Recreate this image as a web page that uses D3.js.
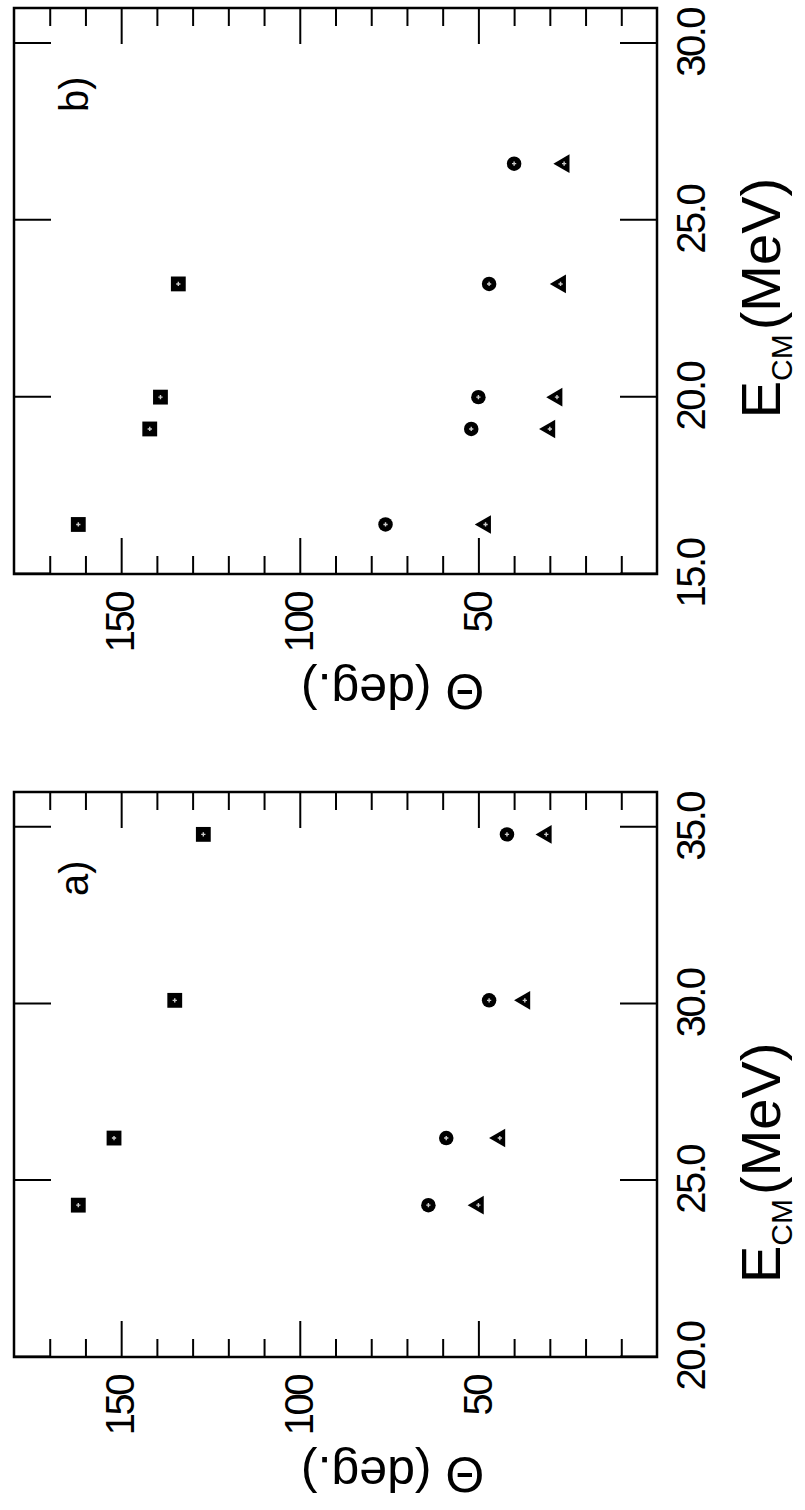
<!DOCTYPE html>
<html>
  <head>
    <meta charset="UTF-8" />
    <style>
      body {
        margin: 0;
        background: #fff;
      }
      svg text {
        font-family: "Liberation Sans", Arial, sans-serif;
        fill: #000;
      }
    </style>
  </head>
  <body>
    <svg></svg>
    <script src="https://d3js.org/d3.v7.min.js"></script>
    <script>
      // panel a) : E_cm (MeV) and angles (deg.) for the three symbols
      let energyA = [24.3, 26.2, 30.1, 34.8];
      let squareA = [162, 152, 135, 127];
      let circleA = [64, 59, 47, 42];
      let triangleA = [50, 44, 37, 31];
      let ticksA = [20, 25, 30, 35];

      // panel b)
      let energyB = [16.4, 19.1, 20.0, 23.2, 26.6];
      let squareB = [162, 142, 139, 134, null];
      let circleB = [76, 52, 50, 47, 40];
      let triangleB = [48, 30, 28, 27, 26];
      let ticksB = [15, 20, 25, 30];

      let thetaMajor = [50, 100, 150];

      let width = 805,
        height = 1510;

      let svg = d3.select("svg").attr("width", width).attr("height", height);
      svg.append("rect").attr("width", width).attr("height", height).attr("fill", "#fff");

      // figure is drawn upright, then turned a quarter to the left like the scan
      let fig = svg
        .append("g")
        .attr("transform", "translate(0," + height + ") rotate(-90)");

      let yScale = d3.scaleLinear().domain([0, 180]).range([657, 14]);
      let frameTop = yScale(180),
        frameBottom = yScale(0);

      function styleAxis(sel) {
        sel.select(".domain").remove();
        sel.selectAll(".tick line").attr("stroke", "#000").attr("stroke-width", 2);
        sel
          .selectAll(".tick text")
          .attr("font-size", 40)
          .attr("letter-spacing", -2.5);
      }

      function drawPanel(opts) {
        let x = d3.scaleLinear().domain(opts.domain).range(opts.range);
        let g = fig.append("g");
        let left = opts.range[0],
          right = opts.range[1];

        //Frame
        g.append("rect")
          .attr("x", left)
          .attr("y", frameTop)
          .attr("width", right - left)
          .attr("height", frameBottom - frameTop)
          .attr("fill", "none")
          .attr("stroke", "#000")
          .attr("stroke-width", 2.5);

        //Energy axis
        g.append("g")
          .attr("transform", "translate(0," + frameBottom + ")")
          .call(
            d3
              .axisBottom(x)
              .tickValues(opts.ticks)
              .tickSizeInner(-37)
              .tickSizeOuter(0)
              .tickPadding(20)
              .tickFormat(d3.format(".1f"))
          )
          .call(styleAxis);

        g.append("g")
          .attr("transform", "translate(0," + frameTop + ")")
          .call(
            d3
              .axisTop(x)
              .tickValues(opts.ticks)
              .tickSizeInner(-37)
              .tickSizeOuter(0)
              .tickFormat("")
          )
          .call(styleAxis);

        //Angle axis, minor ticks every 10 deg
        let minor = d3.range(10, 180, 10).filter((v) => v % 50 != 0);
        g.append("g")
          .attr("transform", "translate(" + left + ",0)")
          .call(d3.axisLeft(yScale).tickValues(minor).tickSizeInner(-18).tickSizeOuter(0).tickFormat(""))
          .call(styleAxis);
        g.append("g")
          .attr("transform", "translate(" + right + ",0)")
          .call(d3.axisRight(yScale).tickValues(minor).tickSizeInner(-18).tickSizeOuter(0).tickFormat(""))
          .call(styleAxis);
        g.append("g")
          .attr("transform", "translate(" + left + ",0)")
          .call(d3.axisLeft(yScale).tickValues(thetaMajor).tickSizeInner(-36).tickSizeOuter(0).tickPadding(19))
          .call(styleAxis);
        g.append("g")
          .attr("transform", "translate(" + right + ",0)")
          .call(d3.axisRight(yScale).tickValues(thetaMajor).tickSizeInner(-36).tickSizeOuter(0).tickFormat(""))
          .call(styleAxis);

        //Axis titles
        g.append("text")
          .attr("transform", "translate(" + (left - 100) + "," + yScale(74) + ") rotate(-90)")
          .attr("text-anchor", "middle")
          .attr("font-size", 50)
          .text("\u0398 (deg.)");

        let title = g
          .append("text")
          .attr("x", x(opts.titleAt))
          .attr("y", 780)
          .attr("text-anchor", "middle")
          .attr("font-size", 56);
        title.append("tspan").text("E");
        title.append("tspan").attr("font-size", 30).attr("dy", 12).text("CM");
        title.append("tspan").attr("dy", -12).attr("dx", 4).text("(MeV)");

        g.append("text")
          .attr("x", right - 104)
          .attr("y", 88)
          .attr("font-size", 40)
          .text(opts.name);

        //Points
        let sets = [
          { vals: opts.squares, type: d3.symbolSquare, size: 220 },
          { vals: opts.circles, type: d3.symbolCircle, size: 165 },
          { vals: opts.triangles, type: d3.symbolTriangle, size: 150 },
        ];
        sets.forEach((s) => {
          let pts = opts.energy
            .map((e, i) => ({ e: e, t: s.vals[i] }))
            .filter((d) => d.t != null);
          let m = g
            .append("g")
            .selectAll("g")
            .data(pts)
            .join("g")
            .attr("transform", (d) => "translate(" + x(d.e) + "," + yScale(d.t) + ")");
          m.append("path").attr("d", d3.symbol(s.type, s.size)).attr("fill", "#000");
          m.append("path")
            .attr("d", d3.symbol(d3.symbolCross, 10))
            .attr("fill", "#fff")
            .attr("opacity", 0.8);
        });
      }

      drawPanel({
        name: "a)",
        domain: [20, 36],
        range: [153, 718],
        ticks: ticksA,
        titleAt: 25.5,
        energy: energyA,
        squares: squareA,
        circles: circleA,
        triangles: triangleA,
      });

      drawPanel({
        name: "b)",
        domain: [15, 31],
        range: [936, 1502],
        ticks: ticksB,
        titleAt: 22.8,
        energy: energyB,
        squares: squareB,
        circles: circleB,
        triangles: triangleB,
      });
    </script>
  </body>
</html>
